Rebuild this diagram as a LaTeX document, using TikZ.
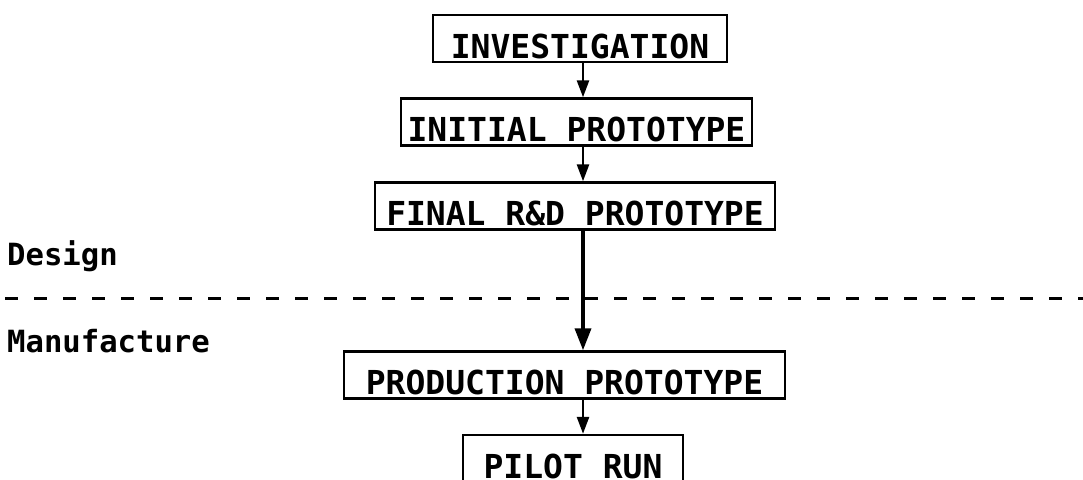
\documentclass[tikz,border=0pt]{standalone}
\usepackage{fontspec}
\setmonofont{DejaVu Sans Mono}
\usetikzlibrary{arrows.meta}
\begin{document}
\begin{tikzpicture}[x=1pt,y=-1pt,
  stagebox/.style={draw, line width=2.4pt, inner xsep=0pt, inner ysep=0pt,
    text height=43pt, text depth=4pt, font=\fontsize{33}{36}\ttfamily\bfseries},
  phaselabel/.style={anchor=base west, inner sep=0pt, font=\fontsize{30.6}{34}\ttfamily\bfseries},
  flow/.style={line width=2.6pt, -{Triangle[length=17pt,width=12pt]}},
  bigflow/.style={line width=3.6pt, -{Triangle[length=22pt,width=16pt]}},
  divider/.style={line width=3pt, dash pattern=on 13pt off 16pt}]
\fill[white] (0,0) rectangle (1083,479);
\clip (0,0) rectangle (1083,479);
\coordinate (ax) at (583,0);
\node[stagebox, minimum width=294pt] (inv) at (580,38.5) {INVESTIGATION};
\node[stagebox, minimum width=351pt] (ini) at (576.5,122) {INITIAL PROTOTYPE};
\node[stagebox, minimum width=400pt] (fin) at (575,206) {FINAL R\&D PROTOTYPE};
\node[stagebox, minimum width=441pt] (prod) at (564.5,375) {PRODUCTION PROTOTYPE};
\node[stagebox, minimum width=220pt] (pilot) at (573,458.5) {PILOT RUN};
\node[phaselabel] (design) at (7,265) {Design};
\node[phaselabel] (manuf) at (7,352) {Manufacture};
\coordinate (dl) at (5,298);
\coordinate (dr) at (1083,298);
\draw[divider] (dl) -- (dr);
\draw[flow] (inv.south -| ax) -- (ini.north -| ax);
\draw[flow] (ini.south -| ax) -- (fin.north -| ax);
\draw[bigflow] (fin.south -| ax) -- (prod.north -| ax);
\draw[flow] (prod.south -| ax) -- (pilot.north -| ax);
\end{tikzpicture}
\end{document}
